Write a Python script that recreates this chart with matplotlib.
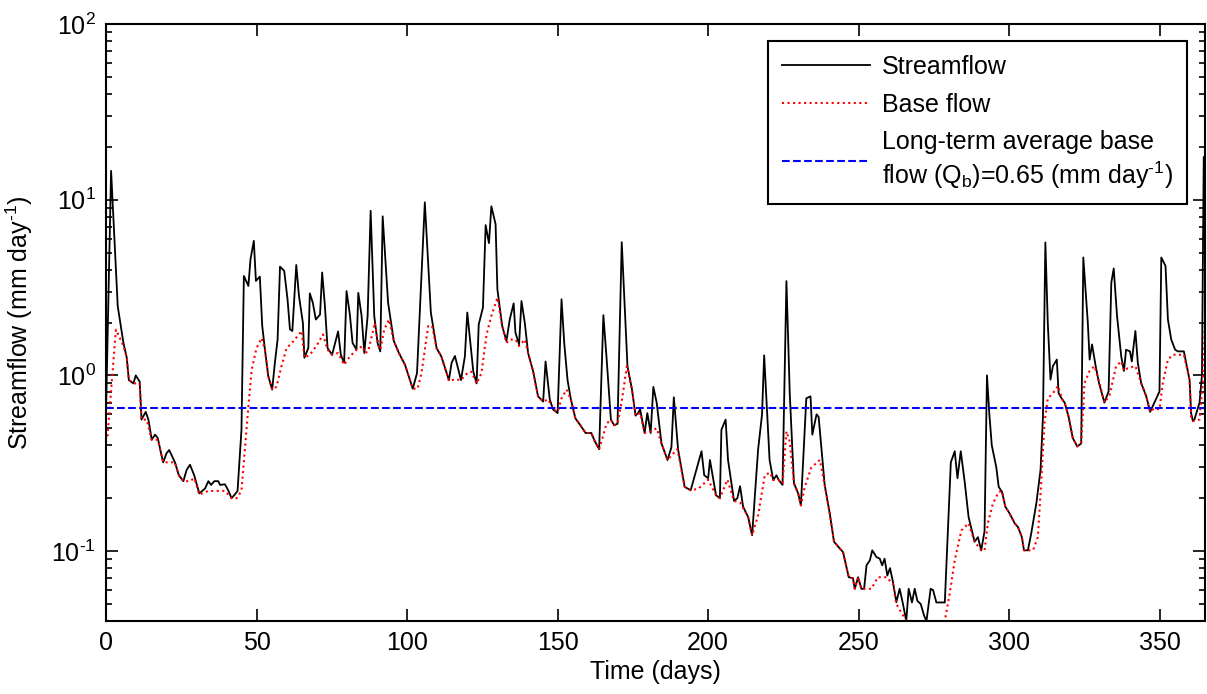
import matplotlib
matplotlib.use('Agg')
import matplotlib.pyplot as plt
from matplotlib.ticker import FuncFormatter
import numpy as np

plt.rcParams['font.family'] = ['Liberation Sans', 'DejaVu Sans']
plt.rcParams['font.size'] = 18
plt.rcParams['mathtext.fontset'] = 'custom'
plt.rcParams['mathtext.rm'] = 'Liberation Sans'
plt.rcParams['mathtext.it'] = 'Liberation Sans:italic'
plt.rcParams['mathtext.default'] = 'regular'

# streamflow (day, mm/day) read at the turning points of the curve
flow_days = [0.0, 1.7, 3.9, 5.8, 6.9, 7.6, 9.1, 9.9, 11.2, 11.8, 13.2, 14.1, 15.2, 16.3, 17.2, 18.3, 19.0, 20.1, 21.0,
             22.9, 24.2, 25.7, 26.8, 27.9, 29.3, 31.0, 32.9, 34.0, 34.9, 36.0, 37.3, 37.9, 39.5, 40.6, 41.7, 42.8, 43.7,
             45.0, 45.8, 47.3, 48.0, 49.1, 49.8, 51.1, 51.9, 52.8, 53.9, 55.2, 56.1, 57.0, 57.8, 59.2, 60.3, 61.1, 61.9,
             63.2, 64.1, 65.4, 65.9, 67.2, 67.7, 68.7, 69.7, 71.1, 71.8, 72.7, 73.6, 75.1, 77.1, 78.0, 79.1, 79.9, 81.0,
             81.9, 83.2, 83.8, 84.9, 85.8, 86.9, 87.9, 89.1, 90.2, 91.1, 91.9, 93.7, 95.6, 97.3, 99.3, 101.9, 103.3,
             105.9, 107.9, 109.8, 111.4, 113.9, 114.8, 115.9, 117.9, 119.2, 120.0, 122.0, 123.1, 123.8, 125.2, 126.1,
             127.2, 128.0, 129.4, 130.0, 131.6, 133.0, 134.1, 135.4, 136.0, 137.2, 138.0, 139.1, 140.2, 141.9, 143.5,
             145.2, 146.0, 147.4, 148.5, 150.0, 151.3, 152.2, 153.3, 154.4, 155.9, 157.9, 159.3, 161.2, 162.4, 163.8,
             165.2, 166.3, 167.7, 168.8, 169.9, 171.3, 173.2, 174.7, 175.9, 176.7, 177.4, 178.9, 179.8, 180.9, 181.8,
             182.9, 184.5, 186.5, 187.8, 188.6, 190.0, 192.2, 194.2, 196.7, 197.8, 198.7, 200.0, 200.6, 202.6, 203.9,
             204.4, 205.8, 206.6, 208.6, 209.7, 210.6, 211.6, 213.3, 214.6, 216.6, 217.9, 218.6, 220.4, 221.6, 222.7,
             223.4, 224.7, 226.0, 227.1, 228.5, 229.9, 230.8, 232.6, 234.0, 234.6, 236.0, 236.7, 238.7, 240.4, 241.8,
             243.4, 244.8, 246.7, 248.1, 248.7, 249.8, 250.9, 251.8, 252.6, 253.7, 254.5, 255.9, 257.0, 257.8, 258.6,
             259.5, 260.4, 261.4, 262.5, 263.6, 264.7, 265.8, 266.6, 267.7, 268.6, 269.5, 270.6, 271.7, 272.5, 273.9,
             274.7, 275.8, 278.6, 280.6, 281.9, 282.8, 283.9, 285.2, 286.5, 288.5, 289.6, 290.7, 291.8, 292.6, 293.4,
             294.2, 295.7, 296.5, 297.6, 298.7, 300.1, 301.8, 302.9, 304.2, 304.9, 306.2, 307.3, 309.0, 310.4, 311.2,
             312.0, 312.8, 313.7, 314.5, 315.8, 316.4, 317.6, 318.4, 319.7, 321.1, 322.6, 323.9, 324.6, 326.1, 326.7,
             327.5, 328.7, 329.8, 331.6, 333.0, 333.9, 334.7, 335.8, 337.2, 338.1, 338.8, 340.1, 340.7, 341.9, 342.7,
             343.8, 345.5, 346.8, 348.2, 349.9, 350.5, 351.9, 352.7, 353.8, 355.1, 356.0, 358.0, 359.9, 360.4, 361.0,
             361.5, 363.2, 364.0, 364.6, 365.0]
flow_vals = [0.6, 14.6, 2.48, 1.53, 1.26, 0.94, 0.90, 1.0, 0.92, 0.56, 0.62, 0.56, 0.43, 0.46, 0.44, 0.36, 0.32, 0.36, 0.376,
             0.32, 0.27, 0.25, 0.29, 0.31, 0.27, 0.213, 0.227, 0.25, 0.238, 0.25, 0.25, 0.238, 0.24, 0.222, 0.20, 0.21, 0.22,
             0.49, 3.68, 3.23, 4.58, 5.83, 3.45, 3.65, 1.91, 1.40, 0.99, 0.83, 1.18, 1.60, 4.16, 3.93, 2.71, 1.83, 1.79,
             4.25, 2.83, 1.99, 1.26, 1.43, 2.93, 2.59, 2.08, 2.22, 3.85, 2.5, 1.43, 1.31, 1.78, 1.31, 1.18, 3.02, 2.22,
             1.53, 1.40, 2.95, 2.18, 1.34, 2.18, 8.65, 2.18, 1.53, 1.37, 8.04, 2.59, 1.57, 1.34, 1.15, 0.84, 1.03,
             9.66, 2.28, 1.43, 1.28, 0.94, 1.18, 1.29, 0.94, 1.28, 2.28, 1.05, 0.90, 1.95, 2.43, 7.17,
             5.66, 9.17, 7.26, 3.09, 1.91, 1.57, 2.08, 2.57, 1.75, 1.50, 2.65, 1.99, 1.34, 1.05, 0.76,
             0.71, 1.20, 0.73, 0.64, 0.61, 2.71, 1.53, 0.94, 0.73, 0.57, 0.51, 0.47, 0.47, 0.42, 0.38,
             2.20, 1.23, 0.56, 0.52, 0.53, 5.73, 1.13, 0.83, 0.59, 0.61, 0.64, 0.47, 0.61, 0.47, 0.86,
             0.70, 0.41, 0.33, 0.39, 0.75, 0.38, 0.232, 0.222, 0.316, 0.37, 0.27, 0.26, 0.33, 0.208, 0.20,
             0.49, 0.56, 0.33, 0.193, 0.20, 0.234, 0.179, 0.156, 0.123, 0.38, 0.60, 1.30, 0.33, 0.254, 0.27,
             0.254, 0.238, 3.44, 0.79, 0.243, 0.213, 0.182, 0.74, 0.76, 0.46, 0.60, 0.58, 0.238, 0.163, 0.113,
             0.105, 0.0987, 0.071, 0.070, 0.061, 0.071, 0.061, 0.061, 0.083, 0.0885, 0.101, 0.0925, 0.0905, 0.083, 0.0905,
             0.0726, 0.080, 0.0665, 0.0512, 0.061, 0.050, 0.040, 0.061, 0.051, 0.061, 0.052, 0.050, 0.043, 0.040, 0.061,
             0.060, 0.051, 0.051, 0.32, 0.37, 0.26, 0.37, 0.248, 0.156, 0.113, 0.12, 0.101, 0.13, 1.0, 0.6,
             0.40, 0.30, 0.232, 0.217, 0.179, 0.164, 0.144, 0.137, 0.12, 0.101, 0.101, 0.126, 0.187, 0.29, 0.583,
             5.71, 1.99, 0.946, 1.13, 1.23, 0.79, 0.73, 0.70, 0.583, 0.44, 0.394, 0.41, 4.69, 1.99, 1.23,
             1.50, 1.13, 0.906, 0.70, 0.81, 3.37, 4.06, 2.18, 1.28, 1.06, 1.40, 1.37, 1.20, 1.79, 1.18,
             0.906, 0.76, 0.62, 0.70, 0.81, 4.69, 4.2, 2.08, 1.60, 1.40, 1.37, 1.37, 0.94, 0.61, 0.55,
             0.56, 0.70, 1.0, 17.5, 15.0]

# base flow (day, mm/day)
base_days = [0.5, 3.3, 5.8, 6.9, 7.6, 9.6, 11.2, 11.8, 13.5, 15.2, 17.2, 19.0, 20.1, 22.9, 24.2, 25.7, 27.9, 29.3, 31.0,
             34.0, 39.5, 41.7, 43.4, 45.0, 46.1, 47.3, 48.4, 50.0, 51.7, 52.8, 53.9, 55.2, 56.6, 58.3, 60.0, 62.2, 65.0,
             65.9, 67.7, 69.9, 72.1, 73.6, 75.1, 77.1, 79.1, 81.0, 83.2, 85.2, 86.0, 87.1, 89.3, 90.4, 91.1, 92.4, 94.0,
             95.6, 97.3, 99.3, 101.9, 103.5, 104.8, 107.0, 108.3, 109.8, 111.4, 113.9, 115.9, 117.9, 120.0, 121.4, 123.1,
             124.7, 126.4, 128.0, 130.0, 131.6, 133.0, 134.1, 136.0, 137.2, 139.1, 140.2, 141.9, 143.5, 145.2, 146.9,
             148.5, 150.0, 151.3, 153.0, 154.4, 155.9, 157.9, 159.3, 161.2, 162.4, 163.8, 165.1, 166.2, 167.7, 168.8,
             169.9, 171.4, 173.0, 174.7, 175.9, 177.4, 178.9, 180.9, 182.9, 184.5, 186.5, 187.8, 189.8, 192.2, 194.2,
             196.7, 200.0, 202.6, 203.9, 206.4, 208.6, 210.6, 213.3, 214.6, 216.6, 218.8, 220.5, 221.6, 223.4, 224.7,
             226.0, 227.1, 228.5, 229.9, 230.8, 232.1, 234.3, 237.1, 238.7, 240.4, 241.8, 243.4, 244.8, 246.7, 248.1,
             248.7, 249.8, 250.9, 254.2, 256.4, 259.2, 261.4, 262.5, 265.8, 278.6, 280.2, 281.9, 284.1, 286.5, 288.5,
             290.7, 291.8, 292.9, 294.6, 296.5, 297.6, 298.7, 300.1, 301.8, 302.9, 304.2, 304.9, 307.9, 309.5, 310.6,
             311.7, 312.8, 314.5, 316.2, 317.6, 318.4, 319.7, 321.1, 322.6, 323.9, 325.0, 326.7, 328.3, 330.0, 331.6,
             333.3, 335.5, 337.2, 338.1, 339.4, 341.9, 343.8, 345.5, 346.8, 348.2, 349.9, 351.0, 352.7, 354.3, 358.0,
             359.9, 360.4, 361.0, 363.2, 364.3, 365.0]
base_vals = [0.45, 1.82, 1.47, 1.26, 0.94, 0.90, 0.90, 0.56, 0.56, 0.43, 0.43, 0.32, 0.32, 0.32, 0.27, 0.25, 0.25, 0.26, 0.21,
             0.22, 0.22, 0.20, 0.20, 0.22, 0.376, 0.665, 1.08, 1.43, 1.63, 1.40, 0.99, 0.83, 0.86, 1.13, 1.43, 1.56, 1.79,
             1.26, 1.31, 1.47, 1.71, 1.40, 1.31, 1.34, 1.15, 1.28, 1.40, 1.47, 1.34, 1.37, 1.99, 1.53, 1.40, 1.82, 2.08,
             1.57, 1.34, 1.15, 0.84, 0.84, 1.03, 1.91, 1.91, 1.43, 1.28, 0.93, 0.95, 0.94, 1.03, 1.05, 0.90,
             1.03, 1.71, 2.18, 2.77, 1.91, 1.53, 1.60, 1.60, 1.47, 1.60, 1.34, 1.05, 0.76, 0.71, 0.73,
             0.64, 0.62, 0.74, 0.83, 0.73, 0.57, 0.51, 0.47, 0.47, 0.42, 0.38, 0.45, 0.53, 0.56, 0.52,
             0.53, 0.73, 1.13, 0.83, 0.59, 0.61, 0.47, 0.48, 0.50, 0.41, 0.33, 0.35, 0.38, 0.232, 0.222,
             0.226, 0.255, 0.208, 0.20, 0.255, 0.193, 0.189, 0.156, 0.123, 0.16, 0.27, 0.28, 0.254, 0.254, 0.243,
             0.48, 0.42, 0.243, 0.213, 0.182, 0.232, 0.30, 0.33, 0.238, 0.163, 0.113, 0.105, 0.0987, 0.071, 0.070,
             0.061, 0.071, 0.061, 0.061, 0.071, 0.071, 0.065, 0.050, 0.040, 0.040, 0.057, 0.0885, 0.131, 0.144, 0.113,
             0.101, 0.101, 0.144, 0.187, 0.217, 0.22, 0.179, 0.164, 0.144, 0.137, 0.12, 0.101, 0.101, 0.12, 0.243,
             0.535, 0.74, 0.79, 0.87, 0.73, 0.70, 0.583, 0.44, 0.394, 0.41, 0.906, 1.06, 1.13, 0.906, 0.70,
             0.77, 1.13, 1.20, 1.06, 1.10, 1.13, 0.906, 0.76, 0.62, 0.65, 0.64, 0.906, 1.23, 1.31, 1.31,
             0.94, 0.583, 0.55, 0.56, 0.906, 1.99]

qb_mean = 0.65

fig = plt.figure(figsize=(12.07, 6.94), dpi=100)
ax = fig.add_axes([0.0878, 0.1052, 0.9105, 0.8602])

ax.plot(flow_days, flow_vals, color='k', lw=1.3, label='Streamflow')
ax.plot(base_days, base_vals, color='#ff0000', lw=1.5, ls=':', label='Base flow')
ax.axhline(qb_mean, color='#0000ff', lw=1.5, ls='--',
           label='Long-term average base\nflow (Q$_b$)=0.65 (mm day$^{\\text{-}1}$)')

ax.set_yscale('log')
ax.set_xlim(0, 365)
ax.set_ylim(0.04, 100)
ax.set_xticks([0, 50, 100, 150, 200, 250, 300, 350])


def log_label(v, pos):
    e = int(round(np.log10(v)))
    return '10$^{\\text{%d}}$' % e


ax.yaxis.set_major_formatter(FuncFormatter(log_label))
ax.tick_params(which='both', direction='in', top=True, right=True, width=1.2)
ax.tick_params(which='major', length=8.5, pad=7)
ax.tick_params(which='minor', length=4.5)
for s in ax.spines.values():
    s.set_linewidth(1.5)

ax.set_xlabel('Time (days)', labelpad=4)
ax.set_ylabel('Streamflow (mm day$^{\\text{-}1}$)', labelpad=12)

leg = ax.legend(loc='upper right', bbox_to_anchor=(0.9836, 0.9715), borderaxespad=0,
                fancybox=False, framealpha=1, edgecolor='k', handlelength=3.5,
                labelspacing=0.55, borderpad=0.55, handletextpad=0.5)
leg.get_frame().set_linewidth(1.5)

fig.savefig('out.png', dpi=100)
